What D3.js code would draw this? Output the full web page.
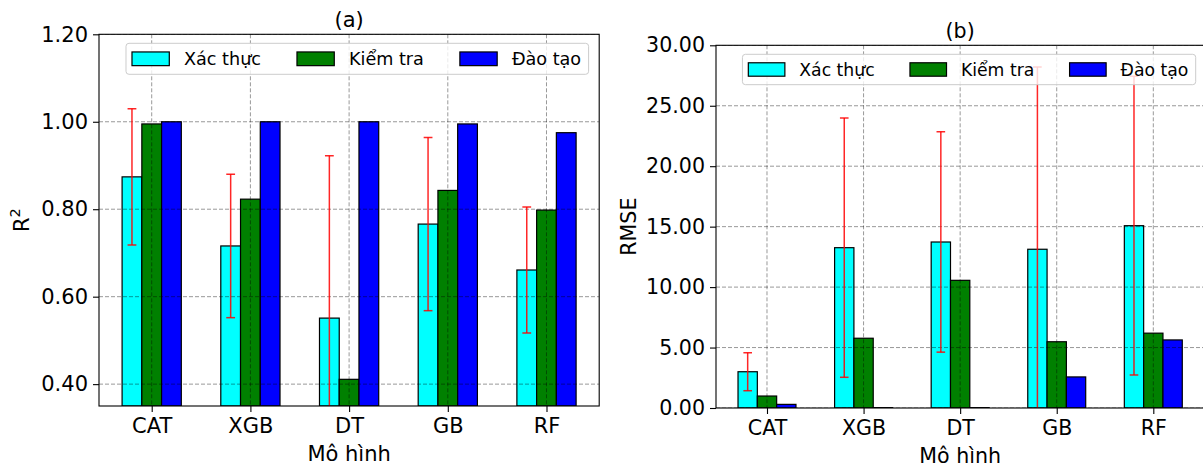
<!DOCTYPE html>
<html>
<head>
<meta charset="utf-8">
<script src="https://cdn.jsdelivr.net/npm/d3@7"></script>
<style>
  html, body { margin: 0; padding: 0; background: #fff; }
  svg { display: block; font-family: "DejaVu Sans", sans-serif; }
</style>
</head>
<body>
<svg id="chart" width="1203" height="466"></svg>
<script>
// Models compared on the x axis
const models = ["CAT", "XGB", "DT", "GB", "RF"];
const seriesNames = ["Xác thực", "Kiểm tra", "Đào tạo"];
const seriesColors = ["#00ffff", "#008000", "#0000ff"];

// (a) R² per model
const r2Validation = [0.874, 0.716, 0.551, 0.766, 0.661];
const r2ValidationErr = [0.156, 0.164, 0.371, 0.198, 0.144];
const r2Test = [0.995, 0.823, 0.411, 0.843, 0.798];
const r2Train = [1.000, 1.000, 1.000, 0.995, 0.975];
const r2Ticks = [0.40, 0.60, 0.80, 1.00, 1.20];

// (b) RMSE per model
const rmseValidation = [3.00, 13.26, 13.73, 13.13, 15.08];
const rmseValidationErr = [1.57, 10.72, 9.11, 15.08, 12.35];
const rmseTest = [0.99, 5.77, 10.56, 5.48, 6.19];
const rmseTrain = [0.30, 0.03, 0.03, 2.57, 5.63];
const rmseTicks = [0, 5, 10, 15, 20, 25, 30];

const svg = d3.select("#chart");
const fmt = d3.format(".2f");

function drawPanel(cfg) {
  const { left, right, top, bottom, xDomain, yDomain, k } = cfg;
  const x = d3.scaleLinear().domain(xDomain).range([left, right]);
  const y = d3.scaleLinear().domain(yDomain).range([bottom, top]);
  const g = svg.append("g");
  const tickFont = 21 * k;

  const clipId = "clip-" + cfg.id;
  g.append("clipPath").attr("id", clipId)
    .append("rect").attr("x", left).attr("y", top)
    .attr("width", right - left).attr("height", bottom - top);

  const plot = g.append("g").attr("clip-path", `url(#${clipId})`);

  // bars: three series side by side around each model
  const series = [cfg.validation, cfg.test, cfg.train];
  const bw = 0.2;
  series.forEach((vals, s) => {
    const off = (s - 1) * bw;
    plot.selectAll(null).data(vals).join("rect")
      .attr("x", (d, i) => x(i + off - bw / 2))
      .attr("width", x(bw) - x(0))
      .attr("y", d => y(d))
      .attr("height", d => y(yDomain[0]) - y(d))
      .attr("fill", seriesColors[s])
      .attr("stroke", "#000")
      .attr("stroke-width", 1.2);
  });

  // dashed grid, drawn over the bars
  const grid = plot.append("g")
    .attr("stroke", "#000").attr("stroke-opacity", 0.45)
    .attr("stroke-width", 0.9).attr("stroke-dasharray", "4,2");
  grid.selectAll(null).data(cfg.ticks).join("line")
    .attr("x1", left).attr("x2", right)
    .attr("y1", d => y(d)).attr("y2", d => y(d));
  grid.selectAll(null).data(models).join("line")
    .attr("x1", (d, i) => x(i)).attr("x2", (d, i) => x(i))
    .attr("y1", top).attr("y2", bottom);

  // error bars on the validation series
  const eb = plot.append("g").attr("stroke", "#ff0000")
    .attr("stroke-opacity", 0.85).attr("stroke-width", 1.5);
  const cap = 4.4 * k;
  cfg.validation.forEach((v, i) => {
    const e = cfg.validationErr[i];
    const cx = x(i - bw);
    eb.append("line").attr("x1", cx).attr("x2", cx)
      .attr("y1", y(v - e)).attr("y2", y(v + e));
    [v - e, v + e].forEach(t => {
      eb.append("line").attr("x1", cx - cap).attr("x2", cx + cap)
        .attr("y1", y(t)).attr("y2", y(t));
    });
  });

  // spines
  g.append("rect").attr("x", left).attr("y", top)
    .attr("width", right - left).attr("height", bottom - top)
    .attr("fill", "none").attr("stroke", "#000").attr("stroke-width", 1.1);

  // axes
  const yAxis = g.append("g").attr("transform", `translate(${left},0)`)
    .call(d3.axisLeft(y).tickValues(cfg.ticks).tickFormat(fmt).tickSize(6).tickPadding(5));
  const xAxis = g.append("g").attr("transform", `translate(0,${bottom})`)
    .call(d3.axisBottom(x).tickValues(d3.range(models.length))
      .tickFormat(i => models[i]).tickSize(6).tickPadding(6));
  [yAxis, xAxis].forEach(a => {
    a.select(".domain").remove();
    a.selectAll(".tick line").attr("stroke", "#000").attr("stroke-width", 1.1);
    a.selectAll(".tick text").attr("fill", "#000")
      .style("font-family", "DejaVu Sans").style("font-size", tickFont + "px");
  });
  xAxis.selectAll(".tick text").attr("dy", "0.71em");

  const cx = (left + right) / 2;
  // title
  g.append("text").attr("x", cx).attr("y", top - 7)
    .attr("text-anchor", "middle").style("font-size", tickFont + "px")
    .text(cfg.title);
  // x label
  g.append("text").attr("x", cx).attr("y", bottom + 54.5)
    .attr("text-anchor", "middle").style("font-size", tickFont + "px")
    .text("Mô hình");
  // y label
  const yl = g.append("text")
    .attr("transform", `translate(${cfg.yLabelX},${(top + bottom) / 2}) rotate(-90)`)
    .attr("text-anchor", "middle").style("font-size", tickFont + "px");
  yl.append("tspan").text(cfg.yLabel);
  if (cfg.yLabelSup) {
    yl.append("tspan").attr("dy", -9 * k).style("font-size", (tickFont * 0.7) + "px")
      .text(cfg.yLabelSup);
  }

  // legend, anchored to the upper right
  const lf = 17.6 * k;
  const handleW = 37.3 * k, handleH = 13.7 * k, handlePad = 14.7 * k;
  const colGap = 36 * k, padL = 6 * k, padR = 7.5 * k, boxH = 31 * k;
  const lg = g.append("g");
  const frame = lg.append("rect");
  let cursor = padL;
  seriesNames.forEach((name, s) => {
    lg.append("rect").attr("x", cursor).attr("y", (boxH - handleH) / 2)
      .attr("width", handleW).attr("height", handleH)
      .attr("fill", seriesColors[s]).attr("stroke", "#000").attr("stroke-width", 1.2);
    const t = lg.append("text").attr("x", cursor + handleW + handlePad)
      .attr("y", boxH / 2 + lf * 0.36).style("font-size", lf + "px").text(name);
    const w = t.node().getComputedTextLength();
    cursor = cursor + handleW + handlePad + w + colGap;
  });
  const boxW = cursor - colGap + padR;
  frame.attr("width", boxW).attr("height", boxH).attr("rx", 3)
    .attr("fill", "#fff").attr("fill-opacity", 0.8)
    .attr("stroke", "#ccc").attr("stroke-width", 1);
  lg.attr("transform", `translate(${cfg.legendRight - boxW},${top + 9})`);
}

drawPanel({
  id: "a", title: "(a)", k: 1,
  left: 99, right: 599.2, top: 34.3, bottom: 406,
  xDomain: [-0.534, 4.534], yDomain: [0.35, 1.20],
  ticks: r2Ticks,
  validation: r2Validation, validationErr: r2ValidationErr,
  test: r2Test, train: r2Train,
  yLabel: "R", yLabelSup: "2", yLabelX: 29,
  legendRight: 588.6
});

drawPanel({
  id: "b", title: "(b)", k: 0.98,
  left: 716, right: 1204.3, top: 45.3, bottom: 408,
  xDomain: [-0.528, 4.528], yDomain: [0, 30],
  ticks: rmseTicks,
  validation: rmseValidation, validationErr: rmseValidationErr,
  test: rmseTest, train: rmseTrain,
  yLabel: "RMSE", yLabelSup: null, yLabelX: 636,
  legendRight: 1195.7
});
</script>
</body>
</html>
